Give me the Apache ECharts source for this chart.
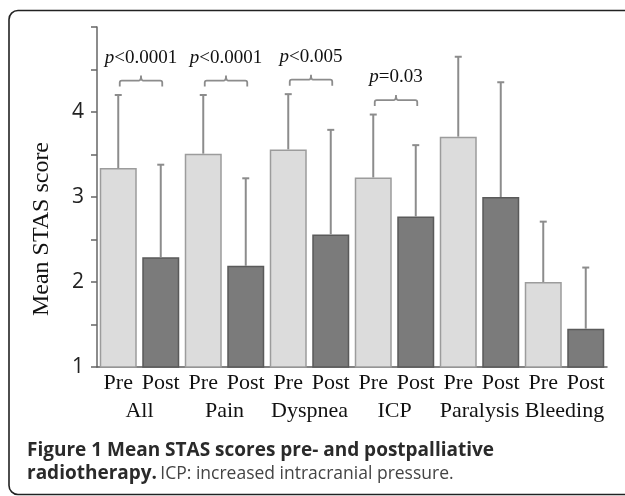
<!DOCTYPE html>
<html>
<head>
<meta charset="utf-8">
<script src="https://cdn.jsdelivr.net/npm/echarts@6/dist/echarts.min.js"></script>
<style>
html,body{margin:0;padding:0;background:#fff;}
#chart{width:625px;height:496px;}
</style>
</head>
<body>
<div id="chart"></div>
<script>
// ---- data ----
var categories = ['All', 'Pain', 'Dyspnea', 'ICP', 'Paralysis', 'Bleeding'];
var phaseLabels = ['Pre', 'Post'];
var preMean = [3.34, 3.51, 3.56, 3.23, 3.71, 2.00];
var postMean = [2.29, 2.19, 2.56, 2.77, 3.00, 1.45];
var preErrTop = [4.20, 4.20, 4.21, 3.97, 4.65, 2.71];
var postErrTop = [3.38, 3.22, 3.79, 3.61, 4.35, 2.17];
var pGroups = [0, 1, 2, 3];
var pTexts = ['<0.0001', '<0.0001', '<0.005', '=0.03'];
var yTicks = [1, 2, 3, 4, 5];

// ---- build ----
var serif = '"Liberation Serif", "Times New Roman", serif';
var sans = '"Open Sans", sans-serif';
var xLabels = [];
var barData = [];
var errData = [];
categories.forEach(function (c, g) {
  xLabels.push(phaseLabels[0], phaseLabels[1]);
  barData.push({ value: preMean[g], itemStyle: { color: '#dcdcdc', borderColor: '#9c9c9c', borderWidth: 1.5 } });
  barData.push({ value: postMean[g], itemStyle: { color: '#7b7b7b', borderColor: '#5a5a5a', borderWidth: 1.5 } });
  errData.push([2 * g, preMean[g], preErrTop[g]]);
  errData.push([2 * g + 1, postMean[g], postErrTop[g]]);
});
var bracketData = pGroups.map(function (g, i) {
  return [2 * g, 2 * g + 1, Math.max(preErrTop[g], postErrTop[g]), pTexts[i]];
});

var chart = echarts.init(document.getElementById('chart'), null, { renderer: 'canvas' });
var option = {
  animation: false,
  backgroundColor: '#fff',
  grid: { left: 97, right: 18, top: 27, bottom: 129, containLabel: false },
  xAxis: [{
    type: 'category',
    data: xLabels,
    axisLine: { show: true, lineStyle: { color: '#5a5a5a', width: 1.5 } },
    axisTick: { show: false },
    axisLabel: { interval: 0, margin: 5, fontFamily: serif, fontSize: 22, color: '#111' }
  }, {
    type: 'category',
    data: categories,
    position: 'bottom',
    offset: 28,
    axisLine: { show: false },
    axisTick: { show: false },
    axisLabel: { interval: 0, margin: 5, fontFamily: serif, fontSize: 22, color: '#111' }
  }],
  yAxis: {
    type: 'value',
    min: yTicks[0],
    max: yTicks[yTicks.length - 1],
    interval: 1,
    splitLine: { show: false },
    axisLine: { show: true, lineStyle: { color: '#666', width: 1.5 } },
    axisTick: { show: true, inside: false, length: 6, lineStyle: { color: '#666', width: 1.5 } },
    minorTick: { show: true, splitNumber: 2, length: 6, lineStyle: { color: '#666', width: 1.5 } },
    axisLabel: { showMaxLabel: false, margin: 13, fontFamily: sans, fontSize: 21, color: '#222' }
  },
  series: [{
    type: 'bar',
    xAxisIndex: 0,
    data: barData,
    barWidth: 37,
    z: 2
  }, {
    type: 'custom',
    xAxisIndex: 0,
    data: errData,
    z: 3,
    renderItem: function (params, api) {
      var p0 = api.coord([api.value(0), api.value(1)]);
      var p1 = api.coord([api.value(0), api.value(2)]);
      var st = { stroke: '#8c8c8c', lineWidth: 2 };
      return { type: 'group', children: [
        { type: 'line', shape: { x1: p0[0], y1: p0[1], x2: p1[0], y2: p1[1] }, style: st },
        { type: 'line', shape: { x1: p1[0] - 3.5, y1: p1[1], x2: p1[0] + 3.5, y2: p1[1] }, style: st }
      ] };
    }
  }, {
    type: 'custom',
    xAxisIndex: 0,
    data: bracketData,
    z: 3,
    renderItem: function (params, api) {
      var lvl = api.value(2) + 0.17;
      var a = api.coord([api.value(0), lvl]);
      var b = api.coord([api.value(1), lvl]);
      var y = a[1];
      var xa = a[0] + 1.5, xb = b[0] + 1.5, xm = (xa + xb) / 2;
      var st = { stroke: '#8c8c8c', lineWidth: 1.8, fill: 'none' };
      var txt = bracketData[params.dataIndex][3];
      return { type: 'group', children: [
        { type: 'path', shape: { pathData:
          'M' + xa + ' ' + (y + 6) + ' L' + xa + ' ' + (y + 2) + ' Q' + xa + ' ' + y + ' ' + (xa + 2) + ' ' + y +
          ' L' + (xm - 2) + ' ' + y + ' Q' + xm + ' ' + y + ' ' + xm + ' ' + (y - 5) +
          ' Q' + xm + ' ' + y + ' ' + (xm + 2) + ' ' + y +
          ' L' + (xb - 2) + ' ' + y + ' Q' + xb + ' ' + y + ' ' + xb + ' ' + (y + 2) + ' L' + xb + ' ' + (y + 6) }, style: st },
        { type: 'text', x: xm, y: y - 23, style: {
          text: '{i|p}{n|' + txt + '}', align: 'center', verticalAlign: 'middle',
          rich: {
            i: { fontFamily: serif, fontSize: 19, fontStyle: 'italic', fill: '#111' },
            n: { fontFamily: serif, fontSize: 19, fill: '#111' }
          } } }
      ] };
    }
  }],
  graphic: [
    { type: 'rect', shape: { x: 9, y: 10.5, width: 700, height: 484, r: 9 }, style: { fill: 'none', stroke: '#222', lineWidth: 1.6 }, z: 10 },
    { type: 'text', x: 42, y: 229, rotation: Math.PI / 2, style: { text: 'Mean STAS score', fontFamily: serif, fontSize: 24, fill: '#111', align: 'center', verticalAlign: 'middle' } },
    { type: 'text', x: 27, y: 451, style: { text: 'Figure 1 Mean STAS scores pre- and postpalliative', fontFamily: sans, fontWeight: 'bold', fontSize: 19, fill: '#2a2a2a', verticalAlign: 'middle' } },
    { type: 'text', x: 27, y: 474, style: { text: '{b|radiotherapy.} {n|ICP: increased intracranial pressure.}', verticalAlign: 'middle',
      rich: {
        b: { fontFamily: sans, fontWeight: 'bold', fontSize: 19, fill: '#2a2a2a' },
        n: { fontFamily: sans, fontSize: 17.5, fill: '#444' }
      } } }
  ]
};
chart.setOption(option);
</script>
</body>
</html>
